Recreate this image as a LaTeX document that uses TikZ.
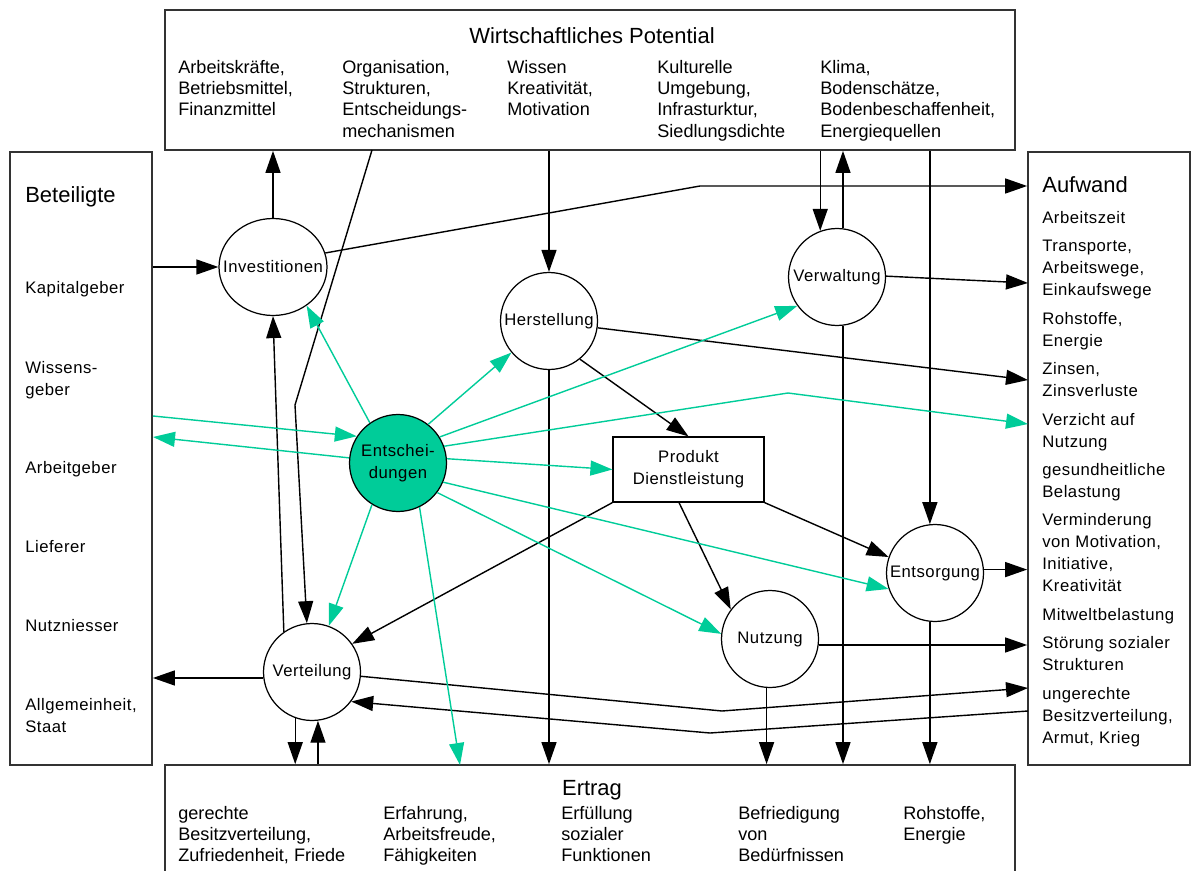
\documentclass[tikz,border=0pt]{standalone}
\usepackage{fontspec}
\setmainfont{Liberation Sans}
\newfontfamily\spacedfont[LetterSpace=3]{Liberation Sans}
\usetikzlibrary{arrows.meta,shapes.geometric,positioning,calc}
\definecolor{entgreen}{RGB}{0,204,153}
\newcommand{\inside}[1]{\makebox[0pt]{#1}}
\tikzset{
    >={Triangle[length=0.44cm,width=0.3cm]},
    flow/.style={->, draw=black, line width=0.8pt},
    greenflow/.style={->, draw=entgreen, line width=0.8pt},
    area/.style={draw=black!80, line width=1pt, rectangle, inner sep=0pt},
    process/.style={circle, draw=black, line width=0.7pt, minimum size=1.94cm, inner sep=0pt,
        font=\spacedfont\fontsize{9.5}{12.5}\selectfont},
    boxtitle/.style={anchor=base, inner sep=0pt, font=\fontsize{12.5}{15}\selectfont},
    item/.style={anchor=north west, align=left, inner sep=0pt, font=\fontsize{10.3}{12.1}\selectfont},
    sideitem/.style={anchor=north west, align=left, inner sep=0pt, font=\spacedfont\fontsize{9.5}{12.5}\selectfont},
}
\begin{document}
\begin{tikzpicture}[x=0.02cm, y=-0.02cm]
	\useasboundingbox (0,0) rectangle (1192,871);
	% outer boxes
	\node[area, minimum width=17cm, minimum height=2.8cm] (pot) at (590,80) {};
	\node[area, minimum width=2.84cm, minimum height=12.26cm] (beteil) at (81,458.5) {};
	\node[area, minimum width=3.24cm, minimum height=12.26cm] (aufw) at (1109,458.5) {};
	\node[area, minimum width=17cm, minimum height=2.3cm] (ertrag) at (590,822.5) {};
	% Wirtschaftliches Potential
	\node[boxtitle] (pottitle) at (592,44) {Wirtschaftliches Potential};
	\node[item] (pot1) at (178,60) {Arbeitskräfte,\\Betriebsmittel,\\Finanzmittel};
	\node[item] (pot2) at (342,60) {Organisation,\\Strukturen,\\Entscheidungs-\\mechanismen};
	\node[item] (pot3) at (507,60) {Wissen\\Kreativität,\\Motivation};
	\node[item] (pot4) at (657,60) {Kulturelle\\Umgebung,\\Infrasturktur,\\Siedlungsdichte};
	\node[item] (pot5) at (820,60) {Klima,\\Bodenschätze,\\Bodenbeschaffenheit,\\Energiequellen};
	% Ertrag
	\node[boxtitle] (ertitle) at (592,795) {Ertrag};
	\node[item] (er1) at (178,806) {gerechte\\Besitzverteilung,\\Zufriedenheit, Friede};
	\node[item] (er2) at (383,806) {Erfahrung,\\Arbeitsfreude,\\Fähigkeiten};
	\node[item] (er3) at (561,806) {Erfüllung\\sozialer\\Funktionen};
	\node[item] (er4) at (738,806) {Befriedigung\\von\\Bedürfnissen};
	\node[item] (er5) at (903,806) {Rohstoffe,\\Energie};
	% Beteiligte
	\node[boxtitle, anchor=base west] (beteiltitle) at (25,203) {Beteiligte};
	\node[sideitem] (bet1) at (25,281) {Kapitalgeber};
	\node[sideitem] (bet2) at (25,361) {Wissens-\\geber};
	\node[sideitem] (bet3) at (25,461) {Arbeitgeber};
	\node[sideitem] (bet4) at (25,540) {Lieferer};
	\node[sideitem] (bet5) at (25,619) {Nutzniesser};
	\node[sideitem] (bet6) at (25,698) {Allgemeinheit,\\Staat};
	% Aufwand
	\node[boxtitle, anchor=base west] (aufwtitle) at (1042,193) {Aufwand};
	\node[sideitem] (aufwlist) at (1042,211) {Arbeitszeit\\[3.7pt]
		Transporte,\\Arbeitswege,\\Einkaufswege\\[3.7pt]
		Rohstoffe,\\Energie\\[3.7pt]
		Zinsen,\\Zinsverluste\\[3.7pt]
		Verzicht auf\\Nutzung\\[3.7pt]
		gesundheitliche\\Belastung\\[3.7pt]
		Verminderung\\von Motivation,\\Initiative,\\Kreativität\\[3.7pt]
		Mitweltbelastung\\[3.7pt]
		Störung sozialer\\Strukturen\\[3.7pt]
		ungerechte\\Besitzverteilung,\\Armut, Krieg};
	% processes
	\node[process, ellipse, minimum width=2.16cm, minimum height=1.94cm] (inv) at (273,267) {\inside{Investitionen}};
	\node[process] (herst) at (549,321) {\inside{Herstellung}};
	\node[process] (verw) at (837,277) {\inside{Verwaltung}};
	\node[process, fill=entgreen] (ent) at (398,463) {\inside{\begin{tabular}{@{}c@{}}Entschei-\\dungen\end{tabular}}};
	\node[process, rectangle, minimum width=3.02cm, minimum height=1.3cm] (prod) at (688.5,469.5) {\begin{tabular}{@{}c@{}}Produkt\\Dienstleistung\end{tabular}};
	\node[process] (ents) at (935,573) {\inside{Entsorgung}};
	\node[process] (nutz) at (770,639) {\inside{Nutzung}};
	\node[process] (vert) at (312,672) {\inside{Verteilung}};
	% bends and ends on the boxes
	\coordinate (o1) at (372,150);
	\coordinate (b1) at (700,186);
	\coordinate (b2) at (295,405);
	\coordinate (b3) at (722,711);
	\coordinate (b4) at (710,733);
	\coordinate (b5) at (788,393);
	\coordinate (a3) at (1028,283);
	\coordinate (a5) at (1028,380);
	\coordinate (a7) at (1028,424);
	\coordinate (a9) at (1028,688);
	\coordinate (a10) at (1028,711);
	\coordinate (g1) at (153,416);
	\coordinate (g2) at (153,437);
	\coordinate (g3) at (460,765);
	% black flows
	\draw[flow] (inv.north) -- (inv.north |- pot.south);
	\draw[flow] (beteil.east |- inv.west) -- (inv.west);
	\draw[flow] (inv.15) -- (b1) -- (b1 -| aufw.west);
	\draw[flow] (o1) -- (b2) -- (vert.96);
	\draw[flow] (vert.125) -- (inv.south);
	\draw[flow] (pot.south -| herst.north) -- (herst.north);
	\draw[flow] (herst.south) -- (herst.south |- ertrag.north);
	\draw[flow] (herst.309) -- (prod.north);
	\draw[flow] (herst.352) -- (a5);
	\draw[flow] (pot.south -| verw.110) -- (verw.110);
	\draw[flow] (verw.83) -- (verw.83 |- pot.south);
	\draw[flow] (verw.277) -- (verw.277 |- ertrag.north);
	\draw[flow] (verw.1) -- (a3);
	\draw[flow] (pot.south -| ents.96) -- (ents.96);
	\draw[flow] (ents.264) -- (ents.264 |- ertrag.north);
	\draw[flow] (ents.4) -- (ents.4 -| aufw.west);
	\draw[flow] (prod.south east) -- (ents.161);
	\draw[flow] (prod.254) -- (nutz.143);
	\draw[flow] (prod.south west) -- (vert.35);
	\draw[flow] (nutz.266) -- (nutz.266 |- ertrag.north);
	\draw[flow] (nutz.353) -- (nutz.353 -| aufw.west);
	\draw[flow] (vert.355) -- (b3) -- (a9);
	\draw[flow] (a10) -- (b4) -- (vert.323);
	\draw[flow] (vert.187) -- (vert.187 -| beteil.east);
	\draw[flow] (vert.250) -- (vert.250 |- ertrag.north);
	\draw[flow] (vert.277 |- ertrag.north) -- (vert.277);
	% green flows
	\draw[greenflow] (ent.125) -- (inv.311);
	\draw[greenflow] (g1) -- (ent.147);
	\draw[greenflow] (ent.174) -- (g2);
	\draw[greenflow] (ent.52) -- (herst.220);
	\draw[greenflow] (ent.32) -- (verw.216);
	\draw[greenflow] (ent.20) -- (b5) -- (a7);
	\draw[greenflow] (ent.5) -- (prod.west);
	\draw[greenflow] (ent.337) -- (ents.199);
	\draw[greenflow] (ent.323) -- (nutz.174);
	\draw[greenflow] (ent.296) -- (g3);
	\draw[greenflow] (ent.238) -- (vert.70);
\end{tikzpicture}
\end{document}
